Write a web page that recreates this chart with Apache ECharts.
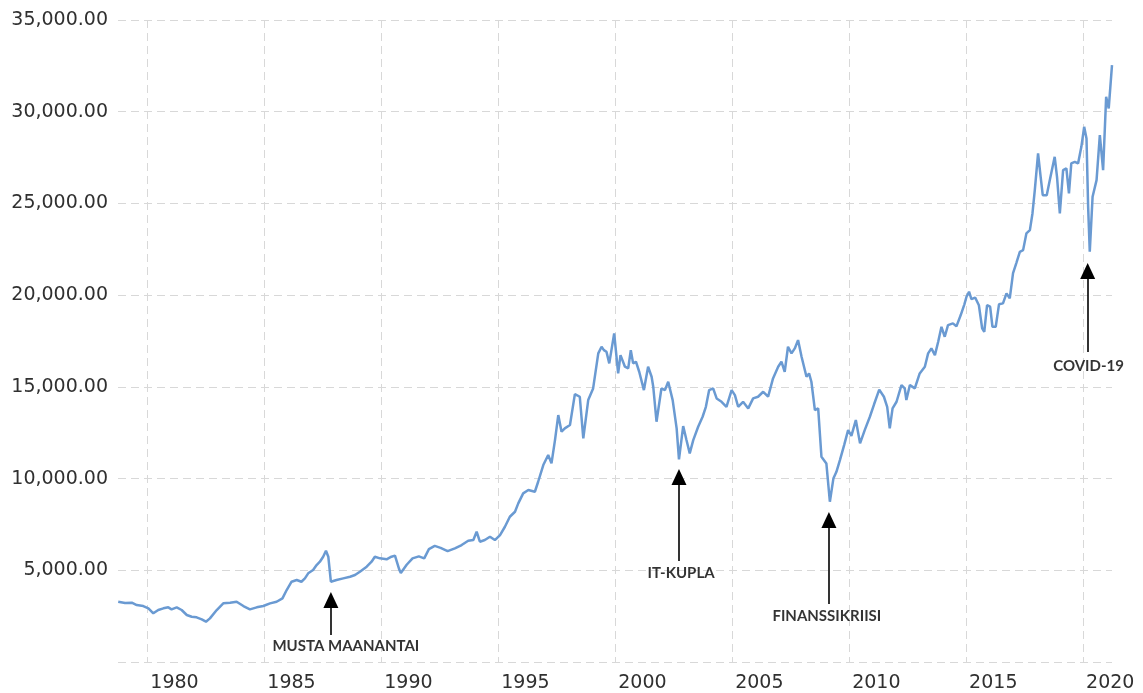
<!DOCTYPE html>
<html>
<head>
<meta charset="utf-8">
<script src="https://cdn.jsdelivr.net/npm/echarts@6/dist/echarts.min.js"></script>
<style>
  html, body { margin: 0; padding: 0; background: #fff; }
  #chart { width: 1143px; height: 693px; }
</style>
</head>
<body>
<div id="chart"></div>
<script>
// Dow Jones, inflation-adjusted monthly closes: [year, value]
const dowSeries = [
  [1978.77, 3286], [1979.06, 3215], [1979.35, 3232], [1979.56, 3106], [1979.84, 3052],
  [1980.06, 2925], [1980.27, 2654], [1980.48, 2834], [1980.70, 2925], [1980.91, 2980],
  [1981.05, 2870], [1981.27, 2980], [1981.48, 2834], [1981.70, 2562], [1981.91, 2470],
  [1982.12, 2434], [1982.34, 2325], [1982.52, 2198], [1982.69, 2380], [1982.98, 2834],
  [1983.26, 3197], [1983.55, 3232], [1983.83, 3286], [1984.12, 3052], [1984.40, 2870],
  [1984.69, 2980], [1984.97, 3052], [1985.26, 3197], [1985.54, 3286], [1985.79, 3470],
  [1985.97, 3924], [1986.18, 4376], [1986.40, 4469], [1986.60, 4376], [1986.75, 4560],
  [1986.89, 4834], [1987.10, 5014], [1987.25, 5287], [1987.39, 5466], [1987.53, 5739],
  [1987.65, 6066], [1987.75, 5739], [1987.86, 4376], [1988.10, 4469], [1988.39, 4560],
  [1988.68, 4650], [1988.89, 4742], [1989.10, 4921], [1989.39, 5194], [1989.60, 5466],
  [1989.74, 5739], [1989.96, 5650], [1990.24, 5600], [1990.45, 5740], [1990.60, 5800],
  [1990.78, 5050], [1990.85, 4850], [1991.10, 5300], [1991.35, 5650], [1991.62, 5760],
  [1991.85, 5650], [1992.05, 6150], [1992.30, 6330], [1992.55, 6220], [1992.85, 6040],
  [1993.16, 6195], [1993.45, 6376], [1993.73, 6611], [1993.95, 6649], [1994.09, 7101],
  [1994.23, 6557], [1994.44, 6649], [1994.66, 6829], [1994.87, 6649], [1995.09, 6922],
  [1995.30, 7374], [1995.51, 7919], [1995.73, 8191], [1995.87, 8649], [1996.08, 9194],
  [1996.30, 9374], [1996.58, 9282], [1996.72, 9827], [1996.94, 10737], [1997.15, 11282],
  [1997.29, 10827], [1997.44, 12099], [1997.58, 13462], [1997.72, 12553], [1997.86, 12735],
  [1998.08, 12917], [1998.29, 14606], [1998.50, 14461], [1998.65, 12192], [1998.86, 14279],
  [1999.07, 14916], [1999.29, 16823], [1999.43, 17186], [1999.53, 17004], [1999.64, 16913],
  [1999.76, 16279], [1999.97, 17914], [2000.14, 15733], [2000.24, 16732], [2000.43, 16097],
  [2000.57, 16006], [2000.68, 17004], [2000.78, 16279], [2000.90, 16370], [2001.04, 15824],
  [2001.24, 14824], [2001.42, 16097], [2001.57, 15552], [2001.64, 15006], [2001.78, 13099],
  [2001.99, 14916], [2002.14, 14824], [2002.28, 15279], [2002.47, 14279], [2002.64, 12735],
  [2002.74, 11047], [2002.92, 12862], [2003.06, 12099], [2003.20, 11374], [2003.35, 12099],
  [2003.56, 12826], [2003.75, 13371], [2003.89, 13914], [2004.03, 14824], [2004.20, 14916],
  [2004.35, 14370], [2004.56, 14188], [2004.77, 13914], [2004.99, 14824], [2005.13, 14552],
  [2005.27, 13914], [2005.48, 14188], [2005.70, 13825], [2005.91, 14370], [2006.12, 14461],
  [2006.34, 14733], [2006.55, 14461], [2006.76, 15461], [2006.98, 16097], [2007.12, 16370],
  [2007.26, 15824], [2007.40, 17186], [2007.55, 16823], [2007.69, 17095], [2007.83, 17550],
  [2007.98, 16641], [2008.19, 15552], [2008.30, 15733], [2008.40, 15279], [2008.55, 13734],
  [2008.69, 13825], [2008.83, 11191], [2009.04, 10827], [2009.19, 8736], [2009.34, 10000],
  [2009.47, 10371], [2009.62, 11009], [2009.80, 11827], [2009.97, 12644], [2010.11, 12330],
  [2010.30, 13189], [2010.48, 11919], [2010.68, 12640], [2010.90, 13371], [2011.08, 14050],
  [2011.30, 14850], [2011.50, 14461], [2011.64, 13914], [2011.75, 12735], [2011.87, 13825],
  [2012.04, 14188], [2012.25, 15097], [2012.39, 14916], [2012.46, 14279], [2012.61, 15097],
  [2012.82, 14916], [2013.03, 15733], [2013.25, 16097], [2013.39, 16823], [2013.53, 17095],
  [2013.68, 16732], [2013.82, 17459], [2013.96, 18276], [2014.10, 17731], [2014.24, 18368],
  [2014.45, 18459], [2014.60, 18300], [2014.78, 18900], [2014.94, 19500], [2015.03, 19912],
  [2015.14, 20185], [2015.24, 19780], [2015.40, 19870], [2015.56, 19450], [2015.70, 18187],
  [2015.79, 18004], [2015.91, 19450], [2016.04, 19370], [2016.14, 18276], [2016.28, 18276],
  [2016.42, 19500], [2016.59, 19550], [2016.74, 20095], [2016.88, 19822], [2017.02, 21200],
  [2017.16, 21750], [2017.31, 22364], [2017.45, 22454], [2017.59, 23364], [2017.74, 23546],
  [2017.85, 24454], [2017.95, 25726], [2018.09, 27725], [2018.20, 26450], [2018.29, 25452],
  [2018.46, 25452], [2018.59, 26269], [2018.80, 27540], [2018.90, 26450], [2019.02, 24454],
  [2019.16, 26814], [2019.30, 26905], [2019.41, 25543], [2019.51, 27179], [2019.66, 27270],
  [2019.80, 27179], [2019.94, 28084], [2020.06, 29175], [2020.16, 28542], [2020.23, 24814],
  [2020.30, 22364], [2020.42, 25361], [2020.59, 26269], [2020.73, 28721], [2020.87, 26814],
  [2021.00, 30809], [2021.11, 30178], [2021.25, 32537]
];

// Axis ticks
const yearTicks = [1980, 1985, 1990, 1995, 2000, 2005, 2010, 2015, 2020];
const valueTicks = [0, 5000, 10000, 15000, 20000, 25000, 30000, 35000];

// Annotated market events: arrow tip / tail values and caption anchor
const eventNames   = ['MUSTA MAANANTAI', 'IT-KUPLA', 'FINANSSIKRIISI', 'COVID-19'];
const eventYears   = [1987.86, 2002.74, 2009.15, 2020.21];
const eventTips    = [3815, 10519, 8175, 21746];
const eventTails   = [1471, 5505, 3161, 16895];
const captionYears = [1988.50, 2002.83, 2009.06, 2020.25];
const captionVals  = [872, 4850, 2507, 16132];

const Y_MIN = valueTicks[0];
const Y_MAX = valueTicks[valueTicks.length - 1];
const GRID = { left: 118, right: 31, top: 20, bottom: 31 };
const plotH = 693 - GRID.top - GRID.bottom;
const HEAD_W = 15, HEAD_H = 16;
const headShift = (HEAD_H / 2) * (Y_MAX - Y_MIN) / plotH;

function fmtValue(v) {
  if (v === Y_MIN) return '';
  const s = Math.round(v).toString().replace(/\B(?=(\d{3})+(?!\d))/g, ',');
  return s + '.00';
}

const arrowLines = eventNames.map((n, i) => [
  { coord: [eventYears[i], eventTails[i]], symbol: 'none' },
  { coord: [eventYears[i], eventTips[i] - headShift], symbol: 'triangle', symbolSize: [HEAD_W, HEAD_H] }
]);

const captionData = eventNames.map((n, i) => ({ name: n, value: [captionYears[i], captionVals[i]] }));

const chart = echarts.init(document.getElementById('chart'), null, { renderer: 'canvas' });

const dash = { color: '#d8d8d8', width: 1, type: [8, 5] };
const tickFont = { fontFamily: 'DejaVu Sans', fontSize: 19, color: '#303030' };

chart.setOption({
  animation: false,
  backgroundColor: '#ffffff',
  grid: GRID,
  xAxis: {
    type: 'value',
    min: 1978.76,
    max: 2021.25,
    axisLine: { show: false },
    axisTick: { show: false, customValues: yearTicks },
    axisLabel: Object.assign({
      customValues: yearTicks,
      margin: 12,
      padding: [0, 0, 0, 55],
      formatter: v => String(Math.round(v))
    }, tickFont),
    splitLine: { show: true, lineStyle: dash }
  },
  yAxis: {
    type: 'value',
    min: Y_MIN,
    max: Y_MAX,
    interval: 5000,
    axisLine: { show: false },
    axisTick: { show: false },
    axisLabel: Object.assign({ margin: 10, formatter: fmtValue }, tickFont),
    splitLine: { show: true, lineStyle: dash }
  },
  series: [
    {
      type: 'line',
      data: dowSeries,
      showSymbol: false,
      smooth: false,
      lineStyle: { color: '#6a9ad2', width: 2.5 },
      itemStyle: { color: '#6a9ad2' },
      silent: true,
      z: 3,
      markLine: {
        silent: true,
        animation: false,
        symbol: ['none', 'triangle'],
        lineStyle: { color: '#000000', width: 1.6, type: 'solid' },
        itemStyle: { color: '#000000' },
        label: { show: false },
        emphasis: { disabled: true },
        data: arrowLines
      }
    },
    {
      type: 'scatter',
      data: captionData,
      symbolSize: 0,
      silent: true,
      z: 4,
      label: {
        show: true,
        position: 'inside',
        formatter: p => p.name,
        fontFamily: 'Lato',
        fontWeight: 'bold',
        fontSize: 15,
        color: '#000000'
      }
    }
  ]
});
</script>
</body>
</html>
